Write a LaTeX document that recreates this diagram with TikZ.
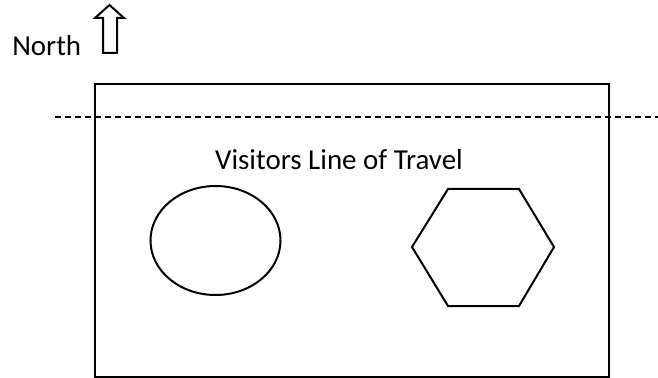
\documentclass[tikz,border=0pt]{standalone}
\usepackage{fontspec}
\setmainfont{Carlito}
\usetikzlibrary{positioning}

\begin{document}
\begin{tikzpicture}[
    x=0.75pt, y=-0.75pt,
    every node/.style={font=\fontsize{21.7pt}{26pt}\selectfont, text=black, inner sep=0pt},
    outline/.style={line width=1.5pt, black, line join=miter},
    travel/.style={line width=1.5pt, black, dash pattern=on 4.5pt off 3pt}
]
    \useasboundingbox (0,0) rectangle (658,378);

    % ==========================
    % NORTH MARKER
    % ==========================
    \node[anchor=west] (north) at (12,46) {North};
    \draw[outline] (103,53) -- (103,18) -- (95,18) -- (109.5,5)
        -- (124,18) -- (117,18) -- (117,53) -- cycle;

    % ==========================
    % THE ROOM
    % ==========================
    \draw[outline] (95,377) rectangle (609,84);
    \draw[travel] (55,117) -- (658,117);

    \node (visitors) at (339,160) {Visitors Line of Travel};

    % round exhibit
    \draw[outline] (215.5,240.5) ellipse (65 and 54.5);

    % hexagonal exhibit
    \draw[outline] (412,247) -- (448,189) -- (519,189)
        -- (554,247) -- (519,306) -- (448,306) -- cycle;

\end{tikzpicture}
\end{document}
